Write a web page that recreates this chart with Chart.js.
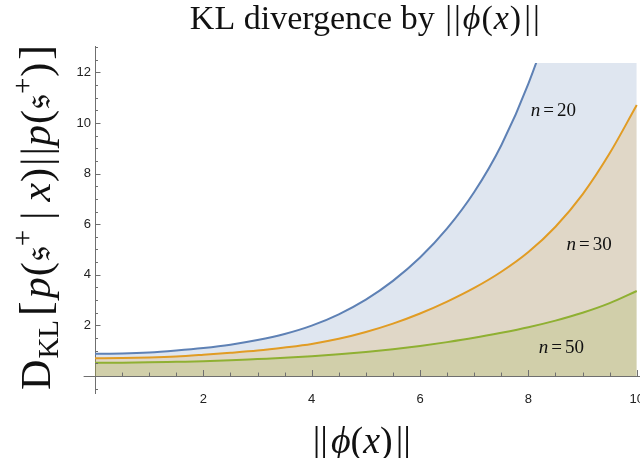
<!DOCTYPE html>
<html>
<head>
<meta charset="utf-8">
<script src="https://cdn.jsdelivr.net/npm/chart.js@4.4.1/dist/chart.umd.min.js"></script>
<style>
  html, body { margin: 0; padding: 0; background: #ffffff; }
  canvas { display: block; }
</style>
</head>
<body>
<canvas id="kl" width="640" height="458"></canvas>
<script>
// ||phi(x)|| sample points
const phiNorm = [0, 0.5, 1, 1.5, 2, 2.5, 3, 3.5, 4, 4.5, 5, 5.5, 6, 6.5, 7, 7.5, 8, 8.5, 9, 9.5, 10];

// KL divergence for each n
const klN20 = [0.88, 0.89, 0.93, 1.01, 1.11, 1.24, 1.42, 1.66, 1.99, 2.44, 3.02, 3.76, 4.68, 5.83, 7.27, 9.12, 11.55, 14.7, 18.8, 24.1, 31.0];
const klN30 = [0.70, 0.71, 0.73, 0.77, 0.84, 0.92, 1.01, 1.13, 1.27, 1.47, 1.74, 2.07, 2.47, 2.94, 3.48, 4.12, 4.90, 5.90, 7.18, 8.80, 10.71];
const klN50 = [0.53, 0.53, 0.54, 0.56, 0.58, 0.62, 0.67, 0.72, 0.78, 0.86, 0.95, 1.06, 1.19, 1.34, 1.51, 1.71, 1.93, 2.19, 2.50, 2.88, 3.36];

const seriesNames = ['20', '30', '50'];

// where each "n = ..." label sits, in data coordinates (centre x, baseline y)
const labelPhi = [8.46, 9.12, 8.61];
const labelKL = [10.28, 4.98, 0.91];

// axis ranges and ticks
const xRange = [0, 10.06];
const xAxisStart = -0.21;       // the horizontal axis line starts a little left of the origin
const yRange = [-0.67, 13.04];
const plotTop = 12.37;          // curves and fills are cut off here
const majorStep = 2;
const minorStep = 0.5;

const lineColors = ['#5E81B5', '#E19C24', '#8FB032'];
const fillColors = ['rgba(94,129,181,0.2)', 'rgba(225,156,36,0.2)', 'rgba(143,176,50,0.2)'];
const axisColor = '#6f6f6f';
const SERIF = '"Liberation Serif", "Times New Roman", serif';
const MATHFALLBACK = '"DejaVu Serif", "DejaVu Sans", "Noto Sans", serif';

function points(ys) {
  return phiNorm.map((x, i) => ({ x: x, y: ys[i] }));
}

function series(i, ys) {
  return {
    label: 'n = ' + seriesNames[i],
    data: points(ys),
    borderColor: lineColors[i],
    backgroundColor: fillColors[i],
    borderWidth: 2,
    pointRadius: 0,
    showLine: true,
    fill: 'origin',
    cubicInterpolationMode: 'monotone'
  };
}

// keep curves and fills inside the plotted range
const rangeClip = {
  id: 'rangeClip',
  beforeDatasetsDraw(chart) {
    const { ctx, chartArea: a, scales: { y } } = chart;
    const top = y.getPixelForValue(plotTop);
    ctx.save();
    ctx.beginPath();
    ctx.rect(a.left, top, a.right - a.left, a.bottom - top);
    ctx.clip();
  },
  afterDatasetsDraw(chart) {
    chart.ctx.restore();
  }
};

// inward-pointing major and minor tick marks on both axes
const innerTicks = {
  id: 'innerTicks',
  afterDraw(chart) {
    const { ctx, scales: { x, y } } = chart;
    const x0 = x.getPixelForValue(0);
    const y0 = y.getPixelForValue(0);
    ctx.save();
    ctx.strokeStyle = axisColor;
    ctx.lineWidth = 1;
    ctx.beginPath();
    // short stretch of the horizontal axis to the left of the origin
    const yLine = Math.round(y0) + 0.5;
    ctx.moveTo(x.getPixelForValue(xAxisStart), yLine);
    ctx.lineTo(x0, yLine);
    for (let k = Math.ceil(yRange[0] / minorStep); k * minorStep <= yRange[1]; k++) {
      const v = k * minorStep;
      if (v === 0) continue;
      const len = (v % majorStep === 0) ? 5.5 : 3;
      const p = Math.round(y.getPixelForValue(v)) + 0.5;
      ctx.moveTo(x0, p);
      ctx.lineTo(x0 + len, p);
    }
    for (let k = 1; k * minorStep <= xRange[1]; k++) {
      const v = k * minorStep;
      const len = (v % majorStep === 0) ? 6 : 3.5;
      const p = Math.round(x.getPixelForValue(v)) + 0.5;
      ctx.moveTo(p, y0);
      ctx.lineTo(p, y0 - len);
    }
    ctx.stroke();
    ctx.restore();
  }
};

function drawRuns(ctx, runs, cx, baseline) {
  let total = 0;
  for (const r of runs) {
    ctx.font = r.font;
    r.w = ctx.measureText(r.text).width + (r.gap || 0);
    total += r.w;
  }
  let x = cx - total / 2;
  for (const r of runs) {
    ctx.font = r.font;
    ctx.fillText(r.text, x, baseline + (r.dy || 0));
    x += r.w;
  }
}

const R = s => s + 'px ' + SERIF;
const I = s => 'italic ' + s + 'px ' + SERIF;
const F = s => s + 'px ' + MATHFALLBACK;

// title, axis titles and curve labels
const textLayer = {
  id: 'textLayer',
  afterDraw(chart) {
    const { ctx, scales: { x, y } } = chart;
    ctx.save();
    ctx.fillStyle = '#111111';
    ctx.textAlign = 'left';
    ctx.textBaseline = 'alphabetic';

    const cx = (x.getPixelForValue(xAxisStart) + x.getPixelForValue(xRange[1])) / 2;
    const cy = (y.getPixelForValue(yRange[0]) + y.getPixelForValue(yRange[1])) / 2;

    // title
    drawRuns(ctx, [
      { text: 'KL divergence by ', font: R(34), gap: 2 },
      { text: '|', font: R(34), gap: 2 },
      { text: '|', font: R(34), gap: 2 },
      { text: 'ϕ', font: I(34), gap: 1 },
      { text: '(', font: R(34), gap: 1 },
      { text: 'x', font: I(34), gap: 1 },
      { text: ')', font: R(34), gap: 3 },
      { text: '|', font: R(34), gap: 2 },
      { text: '|', font: R(34) }
    ], cx + 3, 29);

    // x axis title
    drawRuns(ctx, [
      { text: '||', font: R(38), gap: 3 },
      { text: 'ϕ', font: I(38) },
      { text: '(', font: R(38) },
      { text: 'x', font: I(38) },
      { text: ')', font: R(38), gap: 3 },
      { text: '||', font: R(38) }
    ], cx, 453);

    // y axis title, reading upwards
    ctx.save();
    ctx.translate(50, cy - 2);
    ctx.rotate(-Math.PI / 2);
    drawRuns(ctx, [
      { text: 'D', font: R(42), gap: 1 },
      { text: 'KL', font: R(29), dy: 8, gap: 4 },
      { text: '[', font: R(44), gap: 3 },
      { text: 'p', font: I(42), gap: 1 },
      { text: '(', font: R(42), gap: 1 },
      { text: '𝔰', font: F(38), gap: 1 },
      { text: '+', font: R(29), dy: -18, gap: 10 },
      { text: '|', font: R(42), gap: 10 },
      { text: 'x', font: I(42), gap: 1 },
      { text: ')', font: R(42), gap: 2 },
      { text: '|', font: R(42), gap: 2 },
      { text: '|', font: R(42), gap: 1 },
      { text: 'p', font: I(42), gap: 1 },
      { text: '(', font: R(42), gap: 1 },
      { text: '𝔰', font: F(38), gap: 1 },
      { text: '+', font: R(29), dy: -18, gap: 1 },
      { text: ')', font: R(42), gap: 3 },
      { text: ']', font: R(44) }
    ], 0, 0);
    ctx.restore();

    // curve labels
    for (let i = 0; i < seriesNames.length; i++) {
      drawRuns(ctx, [
        { text: 'n', font: I(19), gap: 3 },
        { text: '=', font: R(19), gap: 3 },
        { text: seriesNames[i], font: R(19) }
      ], x.getPixelForValue(labelPhi[i]), y.getPixelForValue(labelKL[i]));
    }
    ctx.restore();
  }
};

function axisOptions(range, tickLength) {
  return {
    type: 'linear',
    min: range[0],
    max: range[1],
    grid: {
      display: true,
      drawOnChartArea: false,
      drawTicks: tickLength > 0,
      tickLength: tickLength,
      color: 'rgba(0,0,0,0)'
    },
    border: { display: true, color: axisColor, width: 1 },
    ticks: {
      stepSize: majorStep,
      includeBounds: false,
      autoSkip: false,
      maxRotation: 0,
      color: '#222222',
      font: { family: '"Liberation Sans", Arial, sans-serif', size: 13 },
      callback: v => (v === 0 ? '' : String(v))
    }
  };
}

const xAxis = axisOptions(xRange, 4);
xAxis.position = { y: 0 };
xAxis.ticks.padding = 12;
xAxis.afterFit = scale => {
  scale.paddingLeft = 0;
  scale.paddingRight = 0;
};

const yAxis = axisOptions(yRange, 0);
yAxis.position = 'left';
yAxis.ticks.padding = 4;
yAxis.afterFit = scale => {
  scale.width = 20;
  scale.paddingTop = 0;
  scale.paddingBottom = 0;
};

new Chart(document.getElementById('kl'), {
  type: 'scatter',
  data: {
    datasets: [
      series(2, klN50),
      series(1, klN30),
      series(0, klN20)
    ]
  },
  options: {
    responsive: false,
    animation: false,
    layout: { padding: { left: 75, right: 0, top: 46, bottom: 65 } },
    plugins: {
      legend: { display: false },
      title: { display: false },
      tooltip: { enabled: false },
      filler: { propagate: false }
    },
    scales: { x: xAxis, y: yAxis }
  },
  plugins: [rangeClip, innerTicks, textLayer]
});
</script>
</body>
</html>
